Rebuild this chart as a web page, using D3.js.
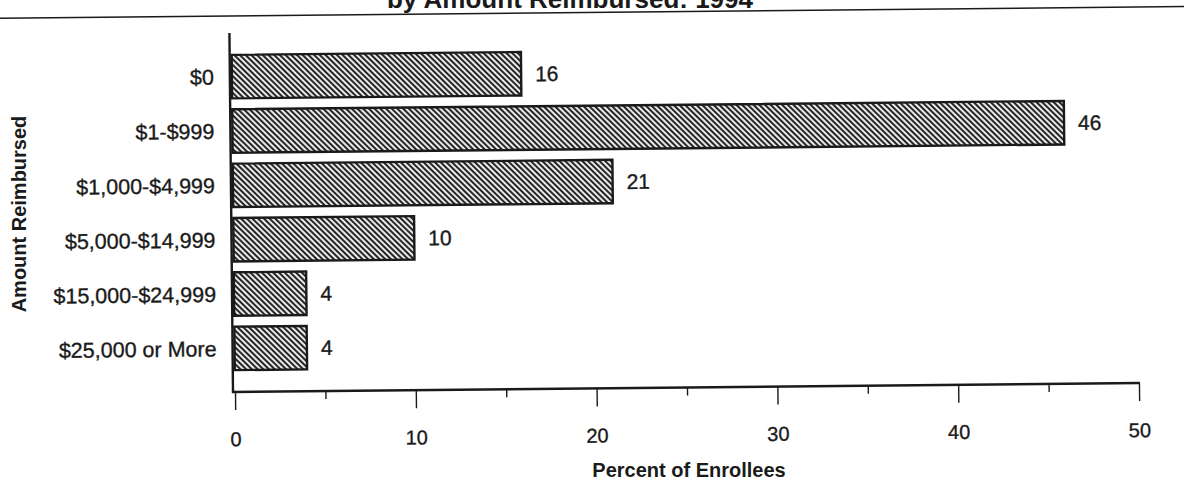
<!DOCTYPE html>
<html><head><meta charset="utf-8">
<script src="https://cdn.jsdelivr.net/npm/d3@7"></script>
<style>body{margin:0;background:#fff}svg{display:block}text{font-family:"Liberation Sans",Arial,Helvetica,sans-serif;fill:#1a1a1a}</style>
</head><body>
<svg id="c" width="1184" height="484"></svg>
<script>
const categories = ["$0","$1-$999","$1,000-$4,999","$5,000-$14,999","$15,000-$24,999","$25,000 or More"];
const values = [16,46,21,10,4,4];
const xTicks = [0,10,20,30,40,50];
const minorTicks = [5,15,25,35,45];
const title = "by Amount Reimbursed: 1994";
const xTitle = "Percent of Enrollees";
const yTitle = "Amount Reimbursed";

const svg = d3.select("#c");
const ink = "#1a1a1a";
const defs = svg.append("defs");
const pat = defs.append("pattern").attr("id","hatch").attr("patternUnits","userSpaceOnUse")
  .attr("width",4).attr("height",4).attr("patternTransform","rotate(-45)");
pat.append("rect").attr("width",4).attr("height",4).attr("fill","#f4f4f4");
pat.append("rect").attr("width",2.1).attr("height",4).attr("fill","#262626");

const x = d3.scaleLinear().domain([0,50]).range([235,1139]);
const y = d3.scaleBand().domain(categories).range([44,381]).paddingInner(0.2).paddingOuter(0.2);

// the scanned page is slightly rotated
const g = svg.append("g").attr("transform","rotate(-0.57,235,392)");

// title (cut off at the top edge, as in the scan)
svg.append("text").attr("x",570).attr("y",8).attr("text-anchor","middle")
  .attr("font-size",26).attr("font-weight","bold").text(title);
g.append("line").attr("x1",-20).attr("x2",1210).attr("y1",16).attr("y2",16)
  .attr("stroke",ink).attr("stroke-width",1.6);

// bars
g.selectAll("rect.bar").data(values).join("rect").attr("class","bar")
  .attr("x",x(0)).attr("y",(d,i)=>y(categories[i]))
  .attr("width",d=>x(d)-x(0)).attr("height",y.bandwidth())
  .attr("fill","url(#hatch)").attr("stroke",ink).attr("stroke-width",2.4);

// value labels
g.selectAll("text.val").data(values).join("text").attr("class","val")
  .attr("x",d=>x(d)+14).attr("y",(d,i)=>y(categories[i])+y.bandwidth()/2)
  .attr("dy","0.36em").attr("font-size",21)
  .attr("stroke",ink).attr("stroke-width",0.35).text(d=>d);

// category labels
g.selectAll("text.cat").data(categories).join("text").attr("class","cat")
  .attr("x",217).attr("y",d=>y(d)+y.bandwidth()/2).attr("dy","0.36em")
  .attr("text-anchor","end").attr("font-size",21.5)
  .attr("stroke",ink).attr("stroke-width",0.35).text(d=>d);

// axis lines
g.append("line").attr("x1",233).attr("x2",233).attr("y1",33).attr("y2",393)
  .attr("stroke",ink).attr("stroke-width",2.4);
g.append("line").attr("x1",232).attr("x2",1140).attr("y1",392).attr("y2",392)
  .attr("stroke",ink).attr("stroke-width",2.4);

// x axis ticks
const ax = g.append("g").attr("transform","translate(0,392)")
  .call(d3.axisBottom(x).tickValues(xTicks).tickSize(18).tickPadding(22).tickFormat(d3.format("d")));
ax.select(".domain").remove();
ax.selectAll(".tick line").attr("stroke",ink).attr("stroke-width",1.4);
ax.selectAll(".tick text").attr("font-size",20).attr("fill",ink)
  .attr("stroke",ink).attr("stroke-width",0.35)
  .style("font-family",'"Liberation Sans",Arial,sans-serif');
const axm = g.append("g").attr("transform","translate(0,392)")
  .call(d3.axisBottom(x).tickValues(minorTicks).tickSize(8).tickFormat(""));
axm.select(".domain").remove();
axm.selectAll(".tick line").attr("stroke",ink).attr("stroke-width",1.4);

// axis titles
svg.append("text").attr("x",689).attr("y",477).attr("text-anchor","middle")
  .attr("font-size",20).attr("font-weight","bold").text(xTitle);
svg.append("text").attr("transform","translate(26,214) rotate(-90)").attr("text-anchor","middle")
  .attr("font-size",20).attr("font-weight","bold").text(yTitle);
</script>
</body></html>
